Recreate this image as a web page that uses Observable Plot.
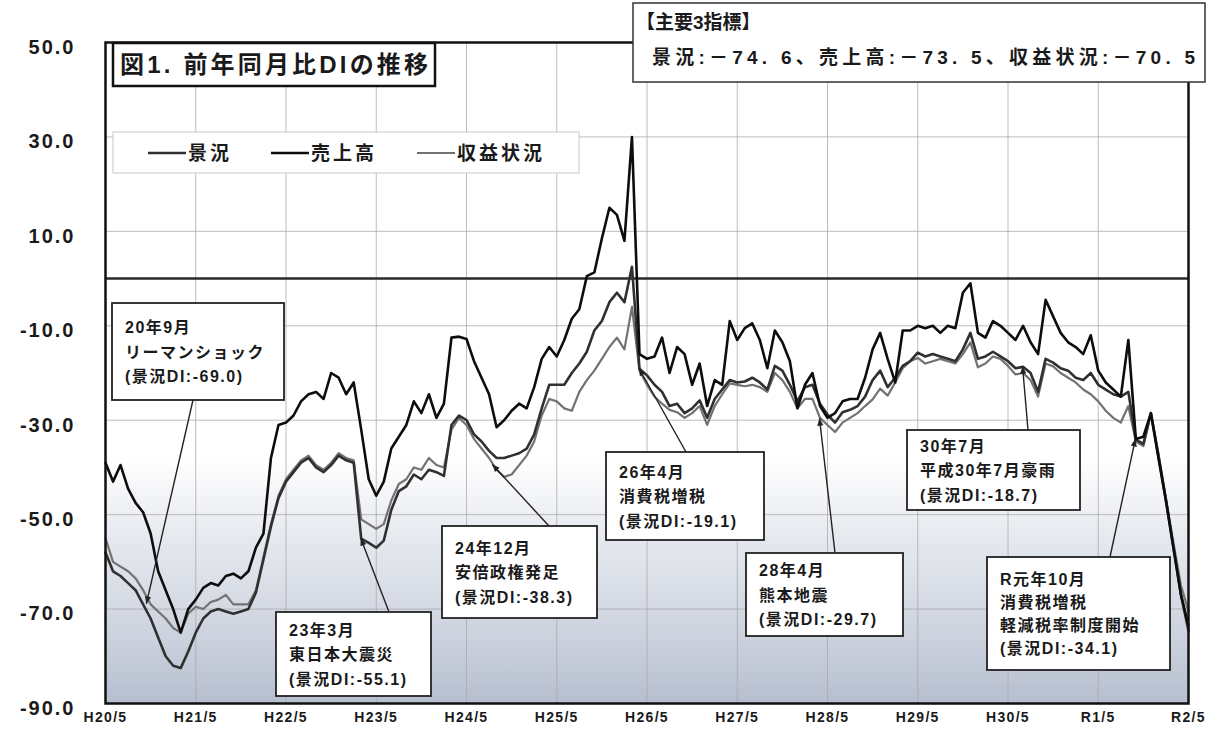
<!DOCTYPE html>
<html><head><meta charset="utf-8">
<script src="https://cdn.jsdelivr.net/npm/d3@7"></script>
<script src="https://cdn.jsdelivr.net/npm/@observablehq/plot@0.6"></script>
<style>
html,body{margin:0;padding:0;background:#fff;}
#chart svg{display:block;}
</style></head><body><div id="chart"></div>
<script>
// ---- data ----
const tickLabels = ["H20/5","H21/5","H22/5","H23/5","H24/5","H25/5","H26/5","H27/5","H28/5","H29/5","H30/5","R1/5","R2/5"];
const yTicks = [50, 30, 10, -10, -30, -50, -70, -90];
const seriesNames = ["景況", "売上高", "収益状況"];
// monthly, H20/5 (2008-05) .. R2/5 (2020-05)
const uriage = [
-39,-43,-39.5,-44.5,-47.5,-49.5,-54,-62,-66,-70,-75,-70,-68,-65.5,-64.5,-65,-63,-62.5,-63.5,-62,
-57,-54,-38,-31,-30.5,-29,-26,-24.5,-24,-25.5,-20,-21,-24.5,-22,-32,-42.5,-46,-43,-36,-33.5,
-31,-26,-28.5,-24.5,-29.5,-26.5,-12.5,-12.3,-12.8,-17.5,-21,-24.5,-31.5,-30,-28,-26.5,-27.5,-23,-17,-14.5,
-16.5,-13,-8.5,-6.5,0.5,1.3,8.5,15,13.5,8,30,-16,-17,-16.5,-12.5,-20,-14.5,-16,-22.5,-18,
-27,-21.5,-22.5,-9,-13,-10.5,-9.5,-13,-19,-11,-13.5,-17.5,-27.5,-22.5,-20,-27,-29.5,-28.5,-26,-25.5,
-25.5,-21,-15,-11.5,-17,-22,-11,-11,-10,-10.5,-10,-11.5,-10,-10.5,-3,-1,-11.5,-12.5,-9,-10,
-11.5,-13,-10,-13.5,-16,-4.5,-8,-11.5,-13.5,-14.5,-16,-12,-19.5,-22,-23.5,-25,-13,-34,-33.5,-28.5,
-38,-47,-57,-67,-73.5];
const keikyo = [
-58,-62,-63,-64.5,-66,-69,-72,-76,-80,-82,-82.5,-79,-75,-72,-70.5,-70,-70.5,-71,-70.5,-70,
-66.5,-59.5,-52.5,-46.5,-43,-41,-39,-38,-40,-41,-39.5,-37.5,-38.5,-39,-55.1,-56,-57,-55.5,-49,-45,
-44,-41.5,-42.5,-40.5,-41,-41.8,-31,-29,-30,-33,-34.5,-36.5,-38,-38,-37.5,-37,-36,-33,-27.5,-22.5,
-22.5,-22.5,-20,-18,-15.5,-11,-9,-5,-3,-5,2.5,-19.1,-20.5,-22.5,-24,-27,-26.5,-28.5,-27.5,-25.8,
-29.5,-25.5,-23.5,-21.5,-22,-21.8,-21,-22,-23.5,-18.5,-19.5,-22.5,-26,-23,-22.5,-26.5,-28.8,-30.5,-28.3,-27.8,
-27,-25,-21.5,-19.5,-23,-21,-18.5,-17.5,-15.7,-16.5,-16,-16.5,-17,-17.5,-15,-11.5,-17,-16.5,-15.5,-16.5,
-17.5,-19,-18.7,-20,-24,-17,-17.8,-19,-19.5,-21,-21.5,-20,-22.5,-23.5,-24.5,-25,-24,-34.1,-35,-28.5,
-37.5,-47,-57,-67,-74.6];
const shueki = [
-55,-60,-61,-62,-63.5,-66,-69,-70.5,-72,-74,-75,-71,-69.5,-70,-68.5,-68,-67,-69,-69,-69,
-66,-59,-52,-46,-42.5,-40.5,-38.5,-37.5,-39.5,-40.5,-39,-37,-38,-38.5,-51,-52,-53,-52,-47,-43.5,
-42.5,-40,-40.5,-38,-39.5,-40,-32,-29.5,-31,-34,-36,-38,-40.5,-42,-41.5,-39.5,-37.5,-34.5,-29,-25.5,
-26,-27.5,-28,-24,-21.5,-19.5,-17,-14.5,-12.5,-15,-6,-19.5,-22.5,-25,-26.5,-27.8,-28.3,-29.5,-28.5,-27,
-31,-27,-24.5,-22.2,-22.5,-22.8,-22.5,-23,-24,-20,-21.5,-24,-27.5,-25.5,-25.5,-29.5,-31,-32.5,-30.5,-29.5,
-28.5,-27,-25.6,-23.3,-24.8,-22,-19,-17.5,-16.8,-18,-17.5,-17,-17.5,-18,-16,-13.5,-18.8,-18,-16.5,-17,
-18.5,-20.3,-20,-21.5,-25,-18,-18.6,-20,-21,-22,-23.5,-24.5,-26,-28,-29.5,-30.5,-27,-34.5,-35.5,-28.5,
-37,-46.5,-56,-65,-70.5];
const latest = ["景況:－74. 6", "売上高:－73. 5", "収益状況:－70. 5"];
const events = [
  {lines:["20年9月","リーマンショック","(景況DI:-69.0)"], month:5.5, value:-69},
  {lines:["23年3月","東日本大震災","(景況DI:-55.1)"], month:34, value:-55.1},
  {lines:["24年12月","安倍政権発足","(景況DI:-38.3)"], month:51.5, value:-39.5},
  {lines:["26年4月","消費税増税","(景況DI:-19.1)"], month:71, value:-19.1},
  {lines:["28年4月","熊本地震","(景況DI:-29.7)"], month:95, value:-29.7},
  {lines:["30年7月","平成30年7月豪雨","(景況DI:-18.7)"], month:122, value:-18.7},
  {lines:["R元年10月","消費税増税","軽減税率制度開始","(景況DI:-34.1)"], month:137, value:-34.1}
];
// ---- layout (pixels) ----
const boxLayout = [
  {x0:112,y0:303,x1:284,y1:400, ax:193, ay:400, fs:16},
  {x0:276,y0:612,x1:431,y1:696, ax:389, ay:612, fs:16},
  {x0:442,y0:526,x1:597,y1:618, ax:549, ay:526, fs:16},
  {x0:606,y0:452,x1:764,y1:540, ax:686, ay:452, fs:16},
  {x0:746,y0:553,x1:903,y1:636, ax:835, ay:553, fs:16},
  {x0:907,y0:430,x1:1080,y1:510, ax:1028, ay:430, fs:16},
  {x0:987,y0:557,x1:1170,y1:670, ax:1110, ay:557, fs:16}
];

const nMonths = uriage.length;
const monthIdx = d3.range(nMonths);
const xTicks = tickLabels.map((_, i) => i * 12);
const colors = {"景況":"#303030","売上高":"#0d0d0d","収益状況":"#727272"};
const widths = {"景況":2.6,"売上高":2.6,"収益状況":2.2};
const seriesValues = {"景況":keikyo,"売上高":uriage,"収益状況":shueki};
const rows = s => monthIdx.map(i => ({m:i, v:seriesValues[s][i], s}));

const chart = Plot.plot({
  width:1210, height:737,
  marginLeft:105, marginRight:22, marginTop:42, marginBottom:34,
  style:{fontFamily:'"Liberation Sans","Noto Sans CJK JP",sans-serif', background:"#fff", color:"#1a1a1a"},
  x:{domain:[0, nMonths-1], label:null},
  y:{domain:[-90, 50], label:null},
  marks:[
    Plot.gridX(xTicks, {stroke:"#a8a8a8", strokeOpacity:0.75, strokeWidth:1}),
    Plot.gridY(yTicks, {stroke:"#a8a8a8", strokeOpacity:0.75, strokeWidth:1}),
    Plot.ruleY([0], {stroke:"#2a2a2a", strokeWidth:2.5}),
    ...["収益状況","景況","売上高"].map(s => Plot.line(rows(s), {x:"m", y:"v", stroke:colors[s], strokeWidth:widths[s], strokeLinejoin:"round"})),
    Plot.frame({stroke:"#111", strokeWidth:2.5}),
    Plot.axisY(yTicks, {tickSize:0, tickPadding:30, tickFormat:d => d.toFixed(1), fontSize:20, fontWeight:"bold", label:null}),
    Plot.axisX(xTicks, {tickSize:0, tickPadding:9, tickFormat:d => tickLabels[d/12], fontSize:14, fontWeight:"bold", label:null})
  ]
});
document.getElementById("chart").appendChild(chart);

const svg = d3.select(chart);
const sx = chart.scale("x"), sy = chart.scale("y");
svg.selectAll('[aria-label="y-axis tick label"] text').style("letter-spacing","2px").attr("dy","0.25em");
svg.selectAll('[aria-label="x-axis tick label"] text').style("letter-spacing","1.3px");

// scan-like tint in the lower part of the plot
const defs = svg.append("defs");
const grad = defs.append("linearGradient").attr("id","tint").attr("x1",0).attr("y1",0).attr("x2",0).attr("y2",1);
grad.append("stop").attr("offset","0").attr("stop-color","#c3cad8").attr("stop-opacity",0);
grad.append("stop").attr("offset","0.35").attr("stop-color","#c3cad8").attr("stop-opacity",0.45);
grad.append("stop").attr("offset","1").attr("stop-color","#a9b3c7").attr("stop-opacity",0.85);
const yTop = sy.apply(-38), yBot = sy.apply(-90);
svg.insert("rect","g").attr("x",sx.apply(0)).attr("y",yTop).attr("width",sx.apply(nMonths-1)-sx.apply(0)).attr("height",yBot-yTop).attr("fill","url(#tint)");

const fontCJK = '"Liberation Sans","Noto Sans CJK JP",sans-serif';
const ann = svg.append("g").attr("font-family", fontCJK).attr("font-weight","bold").attr("fill","#1a1a1a").attr("text-anchor","start");

// title box
ann.append("rect").attr("x",113).attr("y",43).attr("width",322).attr("height",43).attr("fill","#fff").attr("stroke","#111").attr("stroke-width",2.5);
ann.append("text").attr("x",120).attr("y",73).attr("font-size",24).attr("textLength",308).attr("lengthAdjust","spacing").text("図1. 前年同月比DIの推移");

// legend box
ann.append("rect").attr("x",113).attr("y",132).attr("width",466).attr("height",41).attr("fill","#fff").attr("stroke","#c8c8c8").attr("stroke-width",1);
const legX = [148, 271, 417];
seriesNames.forEach((s,i) => {
  ann.append("line").attr("x1",legX[i]).attr("x2",legX[i]+38).attr("y1",153).attr("y2",153).attr("stroke",colors[s]).attr("stroke-width",widths[s]);
  ann.append("text").attr("x",legX[i]+40).attr("y",160).attr("font-size",19).attr("letter-spacing","3px").text(s);
});

// top-right summary box
ann.append("rect").attr("x",633).attr("y",3).attr("width",572).attr("height",79).attr("fill","#fff").attr("stroke","#333").attr("stroke-width",1.5);
ann.append("text").attr("x",636).attr("y",29).attr("font-size",19).text("【主要3指標】");
ann.append("text").attr("x",652).attr("y",64).attr("font-size",19).attr("textLength",543).attr("lengthAdjust","spacing").text(latest.join("、"));

// event call-outs
events.forEach((e,i) => {
  const b = boxLayout[i];
  const tx = sx.apply(e.month), ty = sy.apply(e.value);
  const ang = Math.atan2(ty - b.ay, tx - b.ax);
  ann.append("line").attr("x1",b.ax).attr("y1",b.ay).attr("x2",tx).attr("y2",ty).attr("stroke","#222").attr("stroke-width",1.4);
  const L = 8, W = 0.4;
  ann.append("path").attr("d",`M${tx},${ty}L${tx-L*Math.cos(ang-W)},${ty-L*Math.sin(ang-W)}L${tx-L*Math.cos(ang+W)},${ty-L*Math.sin(ang+W)}Z`).attr("fill","#222");
  ann.append("rect").attr("x",b.x0).attr("y",b.y0).attr("width",b.x1-b.x0).attr("height",b.y1-b.y0).attr("fill","#fff").attr("stroke","#222").attr("stroke-width",1.8);
  const n = e.lines.length;
  const gap = n === 4 ? 23 : 24.5;
  const mid = (b.y0 + b.y1) / 2;
  e.lines.forEach((t,j) => {
    ann.append("text").attr("x",b.x0+13).attr("y",mid + (j-(n-1)/2)*gap + 6).attr("font-size",b.fs).attr("letter-spacing","1.5px").text(t);
  });
});
</script></body></html>
